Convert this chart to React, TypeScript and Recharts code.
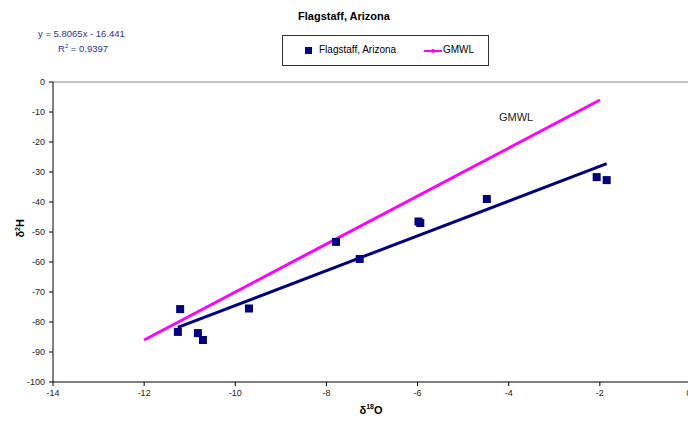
import { ScatterChart, Scatter, XAxis, YAxis, ReferenceLine } from "recharts";

const xTicks = [-14, -12, -10, -8, -6, -4, -2, 0];
const yTicks = [0, -10, -20, -30, -40, -50, -60, -70, -80, -90, -100];

// sample points
const d18O = [-11.21, -11.26, -10.82, -10.71, -9.7, -7.79, -7.27, -5.98, -5.94, -4.48, -2.07, -1.85];
const d2H = [-75.7, -83.3, -83.7, -86.0, -75.5, -53.3, -59.0, -46.5, -47.0, -39.0, -31.7, -32.7];

// trendline ends (y = 5.8065x - 16.441) and GMWL ends
const trendX = [-11.26, -1.85];
const trendY = [-81.8, -27.2];
const gmwlX = [-12, -2];
const gmwlY = [-86, -6];

const samples = d18O.map((x, i) => ({ x, y: d2H[i] }));
const trend = trendX.map((x, i) => ({ x, y: trendY[i] }));
const gmwl = gmwlX.map((x, i) => ({ x, y: gmwlY[i] }));

const NAVY = "#000080";
const MAGENTA = "#ff00ff";
const FONT = "Liberation Sans, Arial, sans-serif";

const Square = (props: any) => (
  <rect x={props.cx - 4} y={props.cy - 4} width={8} height={8} fill={NAVY} />
);
const NoDot = () => <g />;

export default function App() {
  return (
    <div
      style={{
        position: "absolute",
        left: 0,
        top: 0,
        width: 688,
        height: 422,
        background: "#fff",
        fontFamily: FONT,
        overflow: "hidden",
      }}
    >
      <ScatterChart
        width={691}
        height={422}
        margin={{ top: 82, right: 0, bottom: 0, left: 0 }}
      >
        <XAxis
          type="number"
          dataKey="x"
          domain={[-14, 0]}
          ticks={xTicks}
          height={40}
          tickSize={4}
          tickMargin={4}
          stroke="#000"
          tick={{ fontSize: 9, fill: "#222", fontFamily: FONT }}
        />
        <YAxis
          type="number"
          dataKey="y"
          domain={[-100, 0]}
          ticks={yTicks}
          width={53}
          tickSize={4}
          tickMargin={4}
          stroke="#000"
          tick={{ fontSize: 9, fill: "#222", fontFamily: FONT }}
        />
        <ReferenceLine y={0} stroke="#b0b0b0" strokeWidth={1.5} />
        <Scatter
          data={gmwl}
          line={{ stroke: MAGENTA, strokeWidth: 3 }}
          shape={NoDot}
          isAnimationActive={false}
        />
        <Scatter
          data={trend}
          line={{ stroke: NAVY, strokeWidth: 3 }}
          shape={NoDot}
          isAnimationActive={false}
        />
        <Scatter data={samples} shape={Square} isAnimationActive={false} />
      </ScatterChart>

      <div
        style={{
          position: "absolute",
          left: 244,
          width: 200,
          top: 10,
          textAlign: "center",
          fontSize: 11,
          fontWeight: "bold",
        }}
      >
        Flagstaff, Arizona
      </div>

      <div style={{ position: "absolute", left: 38, top: 27, fontSize: 9.5, color: "#2e3192", lineHeight: "13px" }}>
        y = 5.8065x - 16.441
        <br />
        <span style={{ marginLeft: 20 }}>
          R<sup style={{ fontSize: 6 }}>2</sup> = 0.9397
        </span>
      </div>

      <div
        style={{
          position: "absolute",
          left: 282,
          top: 35,
          width: 205,
          height: 29,
          border: "1px solid #333",
          fontSize: 10,
        }}
      >
        <div style={{ position: "absolute", left: 22, top: 11, width: 7, height: 7, background: NAVY }} />
        <div style={{ position: "absolute", left: 36, top: 8 }}>Flagstaff, Arizona</div>
        <div style={{ position: "absolute", left: 141, top: 14, width: 18, height: 1.5, background: MAGENTA }} />
        <div style={{ position: "absolute", left: 148, top: 12.5, width: 4, height: 4, borderRadius: 2, background: MAGENTA }} />
        <div style={{ position: "absolute", left: 160, top: 8 }}>GMWL</div>
      </div>

      <div style={{ position: "absolute", left: 499, top: 111, fontSize: 11, color: "#222" }}>GMWL</div>

      <div
        style={{
          position: "absolute",
          left: 346,
          width: 50,
          top: 403,
          textAlign: "center",
          fontSize: 11,
          fontWeight: "bold",
        }}
      >
        δ<sup style={{ fontSize: 7 }}>18</sup>O
      </div>

      <div
        style={{
          position: "absolute",
          left: 0,
          top: 222,
          width: 40,
          textAlign: "center",
          fontSize: 11,
          fontWeight: "bold",
          transform: "rotate(-90deg)",
        }}
      >
        δ<sup style={{ fontSize: 7 }}>2</sup>H
      </div>
    </div>
  );
}
